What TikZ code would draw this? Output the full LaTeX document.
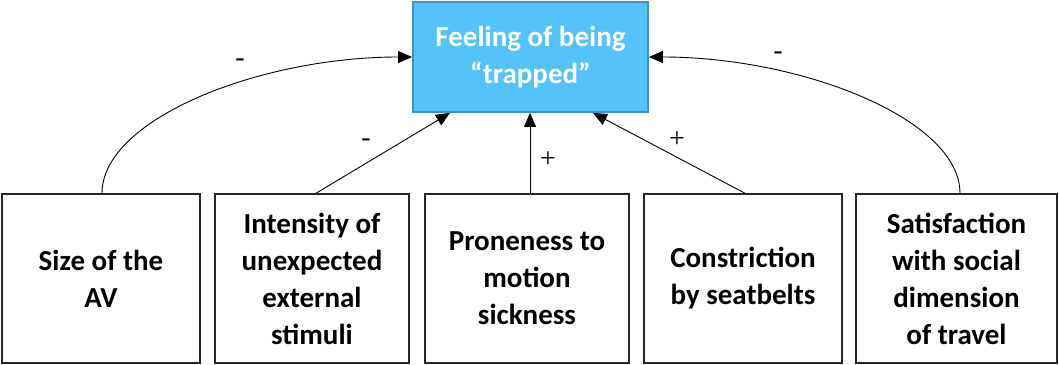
\documentclass[tikz,border=0pt]{standalone}
\usepackage{fontspec}
\setmainfont{Carlito}
\newfontfamily\signfont{Liberation Serif}
\usetikzlibrary{arrows.meta}
\definecolor{topfill}{RGB}{83,195,249}
\definecolor{topdraw}{RGB}{65,145,196}
\begin{document}
\begin{tikzpicture}[x=1pt,y=-1pt,
  txt/.style={font=\fontsize{29}{37}\selectfont\bfseries, align=center, inner sep=0pt},
  topbox/.style={txt, draw=topdraw, fill=topfill, text=white, line width=1.8pt, minimum width=235pt, minimum height=110pt},
  lowbox/.style={txt, draw=black!85, line width=1.5pt, minimum height=169pt},
  conn/.style={line width=0.9pt, -{Triangle[length=14pt,width=12pt]}},
  sign/.style={font=\signfont\fontsize{28}{30}\selectfont, inner sep=0pt}]
\useasboundingbox (0,0) rectangle (1059,364);
\node[topbox] (top) at (530.5,57) {Feeling of being\\“trapped”};
\node[lowbox, minimum width=198pt] (b1) at (101,278.5) {Size of the\\AV};
\node[lowbox, minimum width=194pt] (b2) at (312,278.5) {Intensity of\\unexpected\\external\\stimuli};
\node[lowbox, minimum width=204pt] (b3) at (527,278.5) {Proneness to\\motion\\sickness};
\node[lowbox, minimum width=198pt] (b4) at (743,278.5) {Constriction\\by seatbelts};
\node[lowbox, minimum width=201pt] (b5) at (956.5,278.5) {Satisfaction\\with social\\dimension\\of travel};
\draw[conn] ([xshift=1pt]b1.north) .. controls +(0,-74) and +(-153,0) .. (top.west);
\draw[conn] ([xshift=3.5pt]b5.north) .. controls +(0,-74) and +(153,0) .. (top.east);
\draw[conn] ([xshift=4pt]b2.north) -- ([xshift=-80.5pt]top.south);
\draw[conn] ([xshift=3pt]b3.north) -- ([xshift=-0.5pt]top.south);
\draw[conn] ([xshift=2pt]b4.north) -- ([xshift=62.5pt]top.south);
\node[sign] (s1) at (240,63) {-};
\node[sign] (s2) at (366,143) {-};
\node[sign] (s3) at (548,160) {+};
\node[sign] (s4) at (677,140) {+};
\node[sign] (s5) at (778,56) {-};
\end{tikzpicture}
\end{document}
